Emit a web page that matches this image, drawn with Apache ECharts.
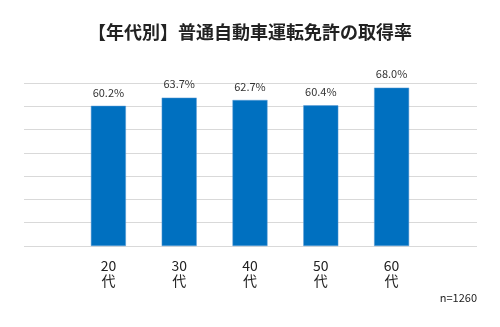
<!DOCTYPE html>
<html><head><meta charset="utf-8">
<script src="https://cdn.jsdelivr.net/npm/echarts@6/dist/echarts.min.js"></script>
<style>html,body{margin:0;padding:0;background:#fff}#c{width:500px;height:327px}</style>
</head><body><div id="c"></div>
<script>
const title = '【年代別】普通自動車運転免許の取得率';
const categories = ['20\n代', '30\n代', '40\n代', '50\n代', '60\n代'];
const values = [60.2, 63.7, 62.7, 60.4, 68.0];
const note = 'n=1260';
const yMin = 0, yMax = 70, yInterval = 10;
const font = '"Noto Sans CJK JP", "Noto Sans", sans-serif';

const chart = echarts.init(document.getElementById('c'), null, {renderer: 'canvas'});
chart.setOption({
  backgroundColor: '#fff',
  animation: false,
  title: {
    text: title, left: 'center', top: 18,
    textStyle: {fontFamily: font, fontSize: 18, fontWeight: 'bold', color: '#222'}
  },
  graphic: [{
    type: 'text', right: 23, top: 292,
    style: {text: note, fontFamily: font, fontSize: 11, fill: '#222'}
  }],
  grid: [
    {left: 24, right: 23, top: 83, bottom: 81},
    {left: 73, right: 73, top: 83, bottom: 81}
  ],
  xAxis: [
    {gridIndex: 0, type: 'category', data: categories, show: false},
    {gridIndex: 1, type: 'category', data: categories,
     axisLine: {show: false}, axisTick: {show: false},
     axisLabel: {fontFamily: font, fontSize: 14, color: '#222', margin: 12, lineHeight: 15}}
  ],
  yAxis: [
    {gridIndex: 0, type: 'value', min: yMin, max: yMax, interval: yInterval,
     axisLabel: {show: false}, axisLine: {show: false}, axisTick: {show: false},
     splitLine: {lineStyle: {color: '#d9d9d9', width: 1}}},
    {gridIndex: 1, type: 'value', min: yMin, max: yMax, interval: yInterval, show: false,
     splitLine: {show: false}}
  ],
  series: [{
    type: 'bar', xAxisIndex: 1, yAxisIndex: 1, data: values, barWidth: 35,
    itemStyle: {color: '#0070c0', borderColor: '#5b9bd5', borderWidth: 0.5},
    label: {show: true, position: 'top', distance: 8, formatter: p => p.value.toFixed(1) + '%',
            fontFamily: font, fontSize: 11, color: '#333'}
  }]
});
</script></body></html>
